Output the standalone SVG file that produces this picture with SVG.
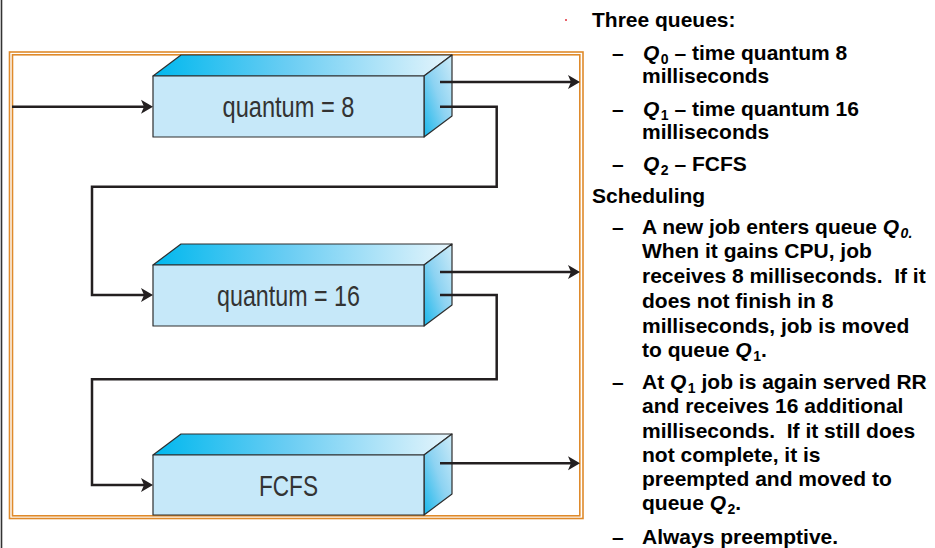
<svg xmlns="http://www.w3.org/2000/svg" width="935" height="548" viewBox="0 0 935 548">
<style>
.frame{fill:none;stroke:#DF8A2B;stroke-width:1.6}
.edge{stroke:#2e2e2e;stroke-width:1.2;stroke-linejoin:round}
.front{fill:#C6E8F9}
.top{fill:url(#gTop)}
.side{fill:url(#gSide)}
.lbl{font-family:"Liberation Sans",Arial,sans-serif;font-size:30px;fill:#333;text-anchor:middle}
.wire{fill:none;stroke:#231F20;stroke-width:2.5;stroke-linejoin:miter}
.arr{marker-end:url(#ah)}
.t{font-family:"Liberation Sans",Arial,sans-serif;font-size:21px;font-weight:bold;fill:#000}
.i{font-style:italic}
.sub{font-size:14px}
</style>
<defs>
<linearGradient id="gTop" x1="0" y1="0" x2="1" y2="0">
<stop offset="0" stop-color="#00B8EE"/>
<stop offset="0.45" stop-color="#6ACDF3"/>
<stop offset="1" stop-color="#E6F5FC"/>
</linearGradient>
<linearGradient id="gSide" x1="1" y1="0" x2="0" y2="1">
<stop offset="0" stop-color="#CDEBF8"/>
<stop offset="0.5" stop-color="#8DD3F2"/>
<stop offset="1" stop-color="#18B7EB"/>
</linearGradient>
<marker id="ah" markerUnits="userSpaceOnUse" markerWidth="14" markerHeight="16" refX="6" refY="7.5" orient="auto">
<path d="M0,0.5 L12,7.5 L0,14.5 L3,7.5 Z" fill="#231F20"/>
</marker>
</defs>
<line x1="1.5" y1="0" x2="1.5" y2="548" stroke="#333" stroke-width="1.6"/>
<g id="frame">
<rect class="frame" x="9.5" y="52" width="573.5" height="466.5"/>
<rect class="frame" x="12.5" y="54.8" width="567.3" height="461"/>
</g>
<g id="q0">
<polygon class="top edge" points="153,76 181,55 452,55 424,76"/>
<polygon class="side edge" points="424,76 452,55 452,116 424,137"/>
<rect class="front edge" x="153" y="76" width="271" height="61"/>
<text class="lbl" x="288.5" y="117" textLength="132" lengthAdjust="spacingAndGlyphs">quantum = 8</text>
</g>
<g id="q1">
<polygon class="top edge" points="153,265 181,244 452,244 424,265"/>
<polygon class="side edge" points="424,265 452,244 452,305 424,326"/>
<rect class="front edge" x="153" y="265" width="271" height="61"/>
<text class="lbl" x="288.5" y="306" textLength="143" lengthAdjust="spacingAndGlyphs">quantum = 16</text>
</g>
<g id="q2">
<polygon class="top edge" points="153,455 181,434 452,434 424,455"/>
<polygon class="side edge" points="424,455 452,434 452,494 424,515"/>
<rect class="front edge" x="153" y="455" width="271" height="60"/>
<text class="lbl" x="288.5" y="496" textLength="59" lengthAdjust="spacingAndGlyphs">FCFS</text>
</g>
<g id="connectors">
<path class="wire arr" d="M12,106.7 H147"/>
<path class="wire arr" d="M440,82 H574"/>
<path class="wire arr" d="M440,106.7 H496.7 V186.7 H92 V295 H147"/>
<path class="wire arr" d="M440,272 H574"/>
<path class="wire arr" d="M440,295 H496.7 V379.3 H92 V485 H147"/>
<path class="wire arr" d="M440,463.3 H574"/>
</g>
<g id="text">
<rect x="565" y="19" width="2" height="2" fill="#E8636B"/>
<text class="t" x="592" y="27">Three queues:</text>
<text class="t" x="612" y="60">–</text>
<text class="t" x="643" y="60"><tspan class="i">Q</tspan><tspan class="sub" dx="1.5" dy="4">0</tspan><tspan dy="-4"> – time quantum 8</tspan></text>
<text class="t" x="642" y="83">milliseconds</text>
<text class="t" x="612" y="116">–</text>
<text class="t" x="643" y="116"><tspan class="i">Q</tspan><tspan class="sub" dx="1.5" dy="4">1</tspan><tspan dy="-4"> – time quantum 16</tspan></text>
<text class="t" x="642" y="139">milliseconds</text>
<text class="t" x="612" y="171">–</text>
<text class="t" x="643" y="171"><tspan class="i">Q</tspan><tspan class="sub" dx="1.5" dy="4">2</tspan><tspan dy="-4"> – FCFS</tspan></text>
<text class="t" x="592" y="203">Scheduling</text>
<text class="t" x="612" y="234">–</text>
<text class="t" x="642" y="234">A new job enters queue <tspan class="i">Q</tspan><tspan class="i sub" dx="1.5" dy="4">0.</tspan></text>
<text class="t" x="642" y="258">When it gains CPU, job</text>
<text class="t" x="642" y="283" xml:space="preserve">receives 8 milliseconds.  If it</text>
<text class="t" x="642" y="308">does not finish in 8</text>
<text class="t" x="642" y="333">milliseconds, job is moved</text>
<text class="t" x="642" y="357">to queue <tspan class="i">Q</tspan><tspan class="sub" dx="1.5" dy="4">1</tspan><tspan dy="-4">.</tspan></text>
<text class="t" x="612" y="389">–</text>
<text class="t" x="642" y="389">At <tspan class="i">Q</tspan><tspan class="sub" dx="1.5" dy="4">1</tspan><tspan dy="-4"> job is again served RR</tspan></text>
<text class="t" x="642" y="413">and receives 16 additional</text>
<text class="t" x="642" y="438" xml:space="preserve">milliseconds.  If it still does</text>
<text class="t" x="642" y="462">not complete, it is</text>
<text class="t" x="642" y="486">preempted and moved to</text>
<text class="t" x="642" y="510">queue <tspan class="i">Q</tspan><tspan class="sub" dx="1.5" dy="4">2</tspan><tspan dy="-4">.</tspan></text>
<text class="t" x="612" y="544">–</text>
<text class="t" x="642" y="544">Always preemptive.</text>
</g>
</svg>
